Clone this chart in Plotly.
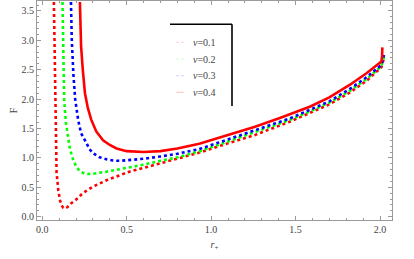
import plotly.graph_objects as go

# v = 0.1 (red dotted)
r_v1 = [0.069, 0.072, 0.075, 0.08, 0.085, 0.095, 0.105, 0.115, 0.125, 0.135, 0.15, 0.17, 0.2, 0.24,
        0.3, 0.38, 0.46, 0.52, 0.6, 0.7, 0.8, 0.93, 1.08, 1.26, 1.465, 1.6, 1.7, 1.82, 1.92, 2.008,
        2.016, 2.024]
F_v1 = [3.65, 3.0, 2.0, 1.3, 0.75, 0.45, 0.28, 0.19, 0.15, 0.14, 0.165, 0.225, 0.29, 0.40,
        0.51, 0.62, 0.71, 0.77, 0.83, 0.91, 0.98, 1.09, 1.23, 1.39, 1.615, 1.78, 1.91, 2.11, 2.31, 2.54,
        2.62, 2.70]

# v = 0.2 (green dotted)
r_v2 = [0.12, 0.124, 0.13, 0.14, 0.154, 0.164, 0.184, 0.2, 0.223, 0.25, 0.272, 0.3, 0.38, 0.45,
        0.52, 0.6, 0.7, 0.8, 0.93, 1.08, 1.26, 1.465, 1.6, 1.7, 1.82, 1.92, 2.008, 2.016, 2.024]
F_v2 = [3.65, 2.55, 1.98, 1.6, 1.30, 1.15, 0.96, 0.86, 0.77, 0.735, 0.726, 0.73, 0.765, 0.80,
        0.84, 0.885, 0.95, 1.01, 1.11, 1.26, 1.43, 1.645, 1.81, 1.94, 2.14, 2.34, 2.56, 2.64, 2.72]

# v = 0.3 (blue dotted)
r_v3 = [0.17, 0.175, 0.185, 0.195, 0.213, 0.23, 0.253, 0.28, 0.3, 0.34, 0.38, 0.42, 0.46, 0.52,
        0.6, 0.7, 0.8, 0.93, 1.08, 1.26, 1.465, 1.6, 1.7, 1.82, 1.92, 2.008, 2.016, 2.024]
F_v3 = [3.65, 3.0, 2.4, 2.0, 1.64, 1.42, 1.30, 1.15, 1.08, 1.01, 0.976, 0.955, 0.95, 0.96,
        0.985, 1.025, 1.07, 1.15, 1.30, 1.47, 1.67, 1.83, 1.96, 2.17, 2.37, 2.58, 2.66, 2.75]

# v = 0.4 (red solid)
r_v4 = [0.223, 0.23, 0.24, 0.253, 0.27, 0.29, 0.32, 0.36, 0.4, 0.44, 0.5, 0.6, 0.7, 0.8, 0.93,
        1.08, 1.26, 1.407, 1.525, 1.584, 1.7, 1.82, 1.92, 2.008, 2.012, 2.014]
F_v4 = [3.65, 2.9, 2.5, 2.1, 1.85, 1.65, 1.45, 1.30, 1.22, 1.16, 1.115, 1.10, 1.115, 1.16, 1.24,
        1.37, 1.53, 1.68, 1.815, 1.87, 2.03, 2.24, 2.44, 2.64, 2.72, 2.88]

labels = ["v=0.1", "v=0.2", "v=0.3", "v=0.4"]
colors = ["#FF0000", "#00FF00", "#0000FF", "#FF0000"]
dashes = ["3px,3px", "3px,3px", "3px,3px", "solid"]

fig = go.Figure()
series = [(r_v1, F_v1), (r_v2, F_v2), (r_v3, F_v3), (r_v4, F_v4)]
for (rx, fy), lab, c, d in zip(series, labels, colors, dashes):
    fig.add_trace(go.Scatter(x=rx, y=fy, mode="lines", name=lab,
                             line=dict(color=c, width=2.6, dash=d), showlegend=False))

serif = "Liberation Serif"
axis_common = dict(
    showline=True, linecolor="#9a9a9a", linewidth=1, mirror="ticks",
    ticks="inside", ticklen=4, tickcolor="#9a9a9a", tickwidth=1,
    showgrid=False, zeroline=False, automargin=False,
    tickfont=dict(family=serif, size=10, color="#444444"),
    tickformat=".1f",
    minor=dict(ticks="inside", ticklen=2, tickcolor="#9a9a9a", tickwidth=1, showgrid=False),
)

fig.update_xaxes(range=[-0.031, 2.071], dtick=0.5, tick0=0,
                 minor_dtick=0.1,
                 title=dict(text="<i>r</i><sub>+</sub>", font=dict(family=serif, size=10, color="#444444"), standoff=6),
                 **axis_common)
fig.update_yaxes(range=[-0.056, 3.668], dtick=0.5, tick0=0,
                 minor_dtick=0.1,
                 title=dict(text="F", font=dict(family=serif, size=10, color="#444444"), standoff=2),
                 **axis_common)

# legend frame (top and right lines) and entries
shapes = [
    dict(type="line", xref="paper", yref="paper", x0=(170-37)/355, x1=(232-37)/355,
         y0=(220-24.3)/219, y1=(220-24.3)/219, line=dict(color="black", width=1.6)),
    dict(type="line", xref="paper", yref="paper", x0=(232-37)/355, x1=(232-37)/355,
         y0=(220-24.3)/219, y1=(220-106)/219, line=dict(color="black", width=1.6)),
]
ann = []
ys = [42.3, 59, 75.7, 92.3]
for lab, c, d, yy in zip(labels, colors, dashes, ys):
    yp = (220 - yy) / 219
    shapes.append(dict(type="line", xref="paper", yref="paper",
                       x0=(176.5-37)/355, x1=(183.5-37)/355, y0=yp, y1=yp,
                       line=dict(color=c, width=1, dash="2px,3px" if d != "solid" else "solid"),
                       opacity=0.25))
    ann.append(dict(xref="paper", yref="paper", x=(191-37)/355, y=yp, xanchor="left", yanchor="middle",
                    text="<i>v</i>=" + lab.split("=")[1], showarrow=False,
                    font=dict(family=serif, size=10, color="#444444")))

fig.update_layout(width=414, height=259, margin=dict(l=37, r=22, t=1, b=39),
                  paper_bgcolor="white", plot_bgcolor="white",
                  shapes=shapes, annotations=ann)

fig.write_html("out.html", config={"displayModeBar": False},
               post_script="document.body.style.margin='0';document.body.style.overflow='hidden';")
